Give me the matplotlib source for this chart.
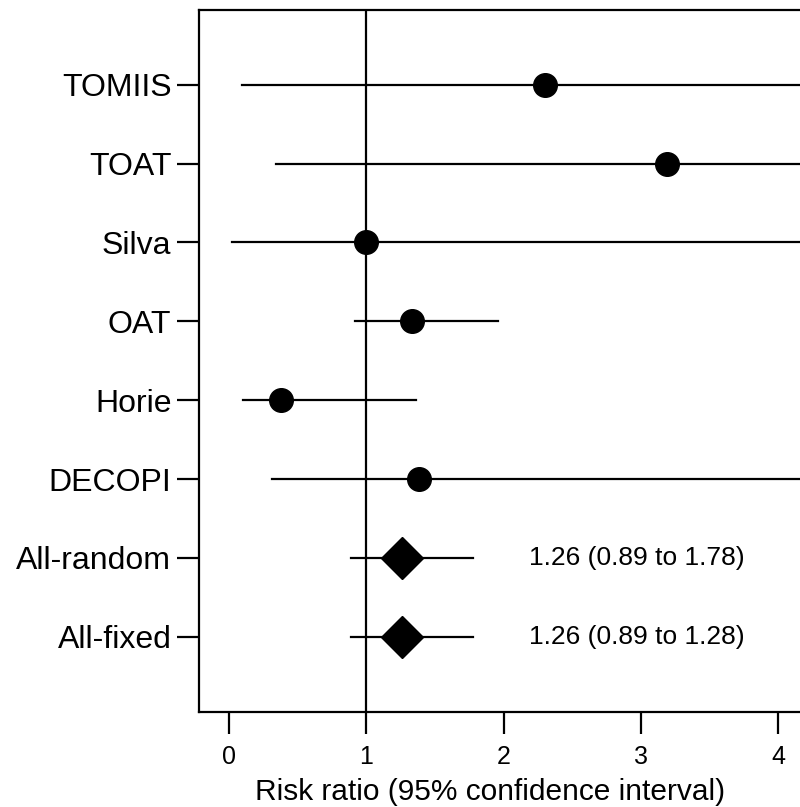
import matplotlib.pyplot as plt

studies = ["TOMIIS", "TOAT", "Silva", "OAT", "Horie", "DECOPI", "All-random", "All-fixed"]
estimate = [2.30, 3.19, 1.00, 1.33, 0.38, 1.38, 1.26, 1.26]
lower = [0.09, 0.34, 0.02, 0.92, 0.10, 0.31, 0.89, 0.89]
upper = [12.0, 15.0, 20.0, 1.96, 1.36, 9.0, 1.78, 1.78]
pooled_text = ["1.26 (0.89 to 1.78)", "1.26 (0.89 to 1.28)"]

plt.rcParams["font.family"] = ["Liberation Sans", "DejaVu Sans"]

fig = plt.figure(figsize=(8, 8.07), dpi=100)
ax = fig.add_axes([0.249, 0.118, 0.775, 0.870])

ypos = list(range(len(studies), 0, -1))

for i, name in enumerate(studies):
    y = ypos[i]
    ax.plot([lower[i], upper[i]], [y, y], color="black", lw=1.6, zorder=2)
    if name.startswith("All"):
        ax.plot(estimate[i], y, marker="D", ms=21, color="black", zorder=3)
    else:
        ax.plot(estimate[i], y, marker="o", ms=17, color="black", zorder=3)

# pooled estimates text
ax.text(2.97, ypos[6], pooled_text[0], ha="center", va="center", fontsize=19)
ax.text(2.97, ypos[7], pooled_text[1], ha="center", va="center", fontsize=19)

ax.axvline(1, color="black", lw=1.6, zorder=1)

ax.set_xlim(-0.219, 4.3)
ax.set_ylim(0.05, 8.95)
ax.set_xticks([0, 1, 2, 3, 4])
ax.set_yticks(ypos)
ax.set_yticklabels(studies)
ax.tick_params(axis="y", length=16, width=1.6, labelsize=23, pad=4)
ax.tick_params(axis="x", length=16, width=1.6, labelsize=18, pad=8)
for s in ax.spines.values():
    s.set_linewidth(1.6)
ax.spines["right"].set_visible(False)
ax.set_xlabel("Risk ratio (95% confidence interval)", fontsize=21.5)
ax.xaxis.set_label_coords(0.469, -0.095)

fig.savefig("out.png", dpi=100)
